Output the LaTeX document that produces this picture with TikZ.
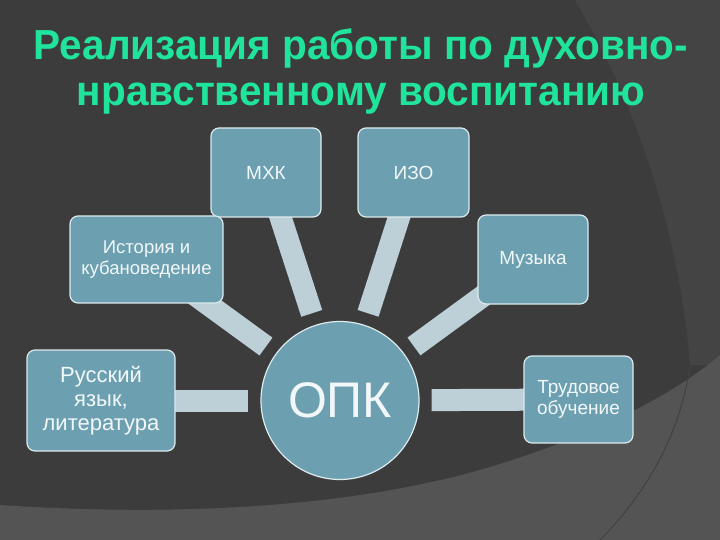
\documentclass[tikz,border=0pt]{standalone}
\usepackage{fontspec}
\setmainfont{Liberation Sans}
\newfontfamily\titlefont{Liberation Sans}[FakeStretch=0.965]
\pgfdeclarelayer{bgl}
\pgfdeclarelayer{barl}
\pgfsetlayers{bgl,barl,main}
\definecolor{bgbase}{HTML}{3C3C3C}
\definecolor{bgright}{HTML}{444444}
\definecolor{bgbottom}{HTML}{545454}
\definecolor{titlegreen}{HTML}{20E49B}
\definecolor{teal}{HTML}{6CA0B1}
\definecolor{edge}{HTML}{DDEAEE}
\definecolor{barcol}{HTML}{BDD0D7}
\definecolor{txt}{HTML}{F2F7F9}
\tikzset{
  box/.style={draw=edge, line width=1.2pt, fill=teal, rounded corners=8pt,
    text=txt, align=center, inner sep=2pt, font=\fontsize{19}{21}\selectfont},
  hub/.style={circle, draw=edge, line width=1.2pt, fill=teal, minimum size=158pt,
    text=txt, inner sep=0pt, font=\fontsize{50}{56}\selectfont},
  bar/.style={draw=barcol, line width=22pt, line cap=butt, shorten >=12pt},
}
\begin{document}
\begin{tikzpicture}[x=1pt,y=-1pt]
\useasboundingbox (0,0) rectangle (720,540);
\begin{pgfonlayer}{bgl}
  \fill[bgbase] (0,0) rectangle (720,540);
  \fill[bgright] (575,0) .. controls (640,110) and (680,240) .. (690,365) -- (720,365) -- (720,0) -- cycle;
  \fill[bgbottom] (0,505) .. controls (150,515) and (330,512) .. (480,470)
     .. controls (600,435) and (680,390) .. (720,355) -- (720,540) -- (0,540) -- cycle;
  \draw[bgbase!80!bgbottom, line width=1pt] (690,365) .. controls (680,440) and (640,500) .. (600,540);
\end{pgfonlayer}

\node[text=titlegreen, align=center, inner sep=0pt,
  font=\titlefont\bfseries\fontsize{42}{46}\selectfont] (title) at (361,71)
  {Реализация работы по духовно-\\нравственному воспитанию};

\node[hub] (opk) at (340,400.5) {ОПК};
\node[box, minimum width=110pt, minimum height=89pt] (mhk) at (266,172.5) {МХК};
\node[box, minimum width=111pt, minimum height=89pt] (izo) at (413.5,172.5) {ИЗО};
\node[box, minimum width=153pt, minimum height=87pt, font=\fontsize{18.5}{21}\selectfont] (ist) at (146.5,259.5) {История и\\кубановедение};
\node[box, minimum width=110pt, minimum height=89pt] (muz) at (533,259.5) {Музыка};
\node[box, minimum width=148pt, minimum height=101pt, font=\fontsize{22}{24}\selectfont] (rus) at (101,400.5) {Русский\\язык,\\литература};
\node[box, minimum width=109pt, minimum height=87pt] (trud) at (578.5,399.5) {Трудовое\\обучение};

\begin{pgfonlayer}{barl}
  \draw[bar] (mhk.center) -- (opk);
  \draw[bar] (izo.center) -- (opk);
  \draw[bar] (ist.center) -- (opk);
  \draw[bar] (muz.center) -- (opk);
  \draw[bar] (rus.center) -- (opk);
  \draw[bar] (trud.center) -- (opk);
\end{pgfonlayer}
\end{tikzpicture}
\end{document}
